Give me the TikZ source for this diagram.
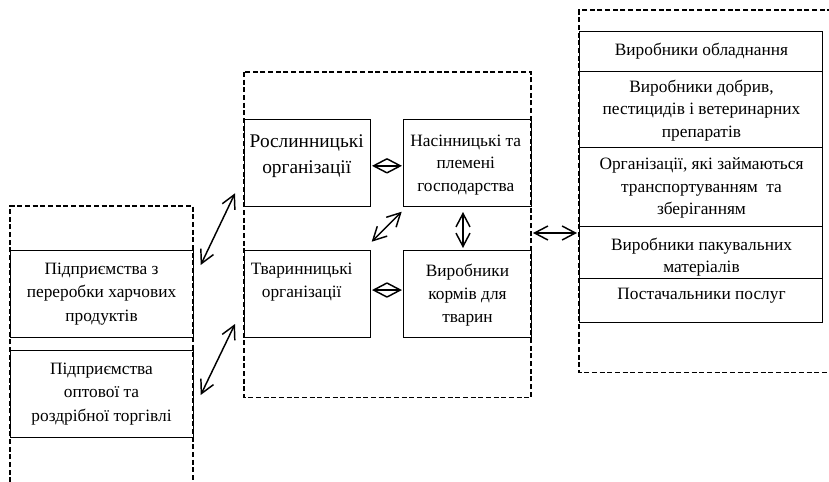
\documentclass[tikz,border=0pt]{standalone}
\usepackage{fontspec}
\setmainfont{Liberation Serif}
\usetikzlibrary{arrows.meta}
\tikzset{
  box/.style={draw, line width=0.75pt, inner sep=0pt, outer sep=0pt},
  txt/.style={align=center, inner sep=0pt, font=\fontsize{13pt}{17pt}\selectfont},
  lefttxt/.style={align=center, inner sep=0pt, font=\fontsize{13pt}{17.6pt}\selectfont},
  bigtxt/.style={align=center, inner sep=0pt, font=\fontsize{14.5pt}{19.5pt}\selectfont},
  frame/.style={draw, line width=1.1pt, dash pattern=on 3.75pt off 2pt},
  link/.style={line width=1.1pt, {Straight Barb[length=10pt,width=10.5pt]}-{Straight Barb[length=10pt,width=10.5pt]}}
}
\begin{document}
\begin{tikzpicture}[x=0.75pt,y=-0.75pt]
\useasboundingbox (0,0) rectangle (829,482);
% dashed frames
\draw[frame] (10,490) -- (10,206) -- (193,206) -- (193,490);
\draw[frame] (244,72) rectangle (531,397.5);
\draw[frame] (840,10) -- (579,10) -- (579,372.5) -- (840,372.5);
% left boxes
\node[box, minimum width=137.25pt, minimum height=65.25pt] (p1) at (101.5,293.5) {};
\node[box, minimum width=137.25pt, minimum height=65.25pt] (p2) at (101.5,393.5) {};
\node[lefttxt] (tp1) at (101.5,294) {Підприємства з\\переробки харчових\\продуктів};
\node[lefttxt] (tp2) at (101.5,394) {Підприємства\\оптової та\\роздрібної торгівлі};
% middle boxes
\node[box, minimum width=94.5pt, minimum height=65.25pt] (ros) at (307,162.5) {};
\node[box, minimum width=96pt, minimum height=65.25pt] (nas) at (467,162.5) {};
\node[box, minimum width=94.5pt, minimum height=65.25pt] (tva) at (307,293.5) {};
\node[box, minimum width=96pt, minimum height=65.25pt] (vyr) at (467,293.5) {};
\node[bigtxt] (tros) at (306.7,156) {Рослинницькі\\організації};
\node[txt] (tnas) at (465.8,165) {Насінницькі та\\племені\\господарства};
\node[txt] (ttva) at (301.7,282) {Тваринницькі\\організації};
\node[txt] (tvyr) at (467.5,295) {Виробники\\кормів для\\тварин};
% right boxes
\node[box, minimum width=182.25pt, minimum height=30pt] (b1) at (700.5,51) {};
\node[box, minimum width=182.25pt, minimum height=57pt] (b2) at (700.5,109) {};
\node[box, minimum width=182.25pt, minimum height=59.25pt] (b3) at (700.5,186.5) {};
\node[box, minimum width=182.25pt, minimum height=39pt] (b4) at (700.5,252) {};
\node[box, minimum width=182.25pt, minimum height=33pt] (b5) at (700.5,300) {};
\node[txt] (tb1) at (701.5,51.5) {Виробники обладнання};
\node[txt] (tb2) at (701.5,110.5) {Виробники добрив,\\пестицидів і ветеринарних\\препаратів};
\node[txt] (tb3) at (701.5,188) {Організації, які займаються\\транспортуванням\ \ та\\зберіганням};
\node[txt] (tb4) at (701.5,257) {Виробники пакувальних\\матеріалів};
\node[txt] (tb5) at (701.5,296) {Постачальники послуг};
% arrow end points
\coordinate (a1s) at (200.7,265);
\coordinate (a1e) at (235,193.3);
\coordinate (a2s) at (200.7,395);
\coordinate (a2e) at (235,324);
\coordinate (a3s) at (533,233);
\coordinate (a3e) at (577,233);
\coordinate (d1s) at (371.7,241.7);
\coordinate (d1e) at (401.7,211.7);
% connectors
\draw[link] (a1s) -- (a1e);
\draw[link] (a2s) -- (a2e);
\draw[link] (a3s) -- (a3e);
\draw[link] (d1s) -- (d1e);
\draw[link, shorten <=1.5pt, shorten >=0.8pt] ([yshift=-2.5pt]ros.east) -- ([yshift=-2.5pt]nas.west);
\draw[link, shorten <=1.5pt, shorten >=0.8pt] ([yshift=2.6pt]tva.east) -- ([yshift=2.6pt]vyr.west);
\draw[link, shorten <=4.5pt, shorten >=1.5pt] ([xshift=-3pt]nas.south) -- ([xshift=-3pt]vyr.north);
\end{tikzpicture}
\end{document}
